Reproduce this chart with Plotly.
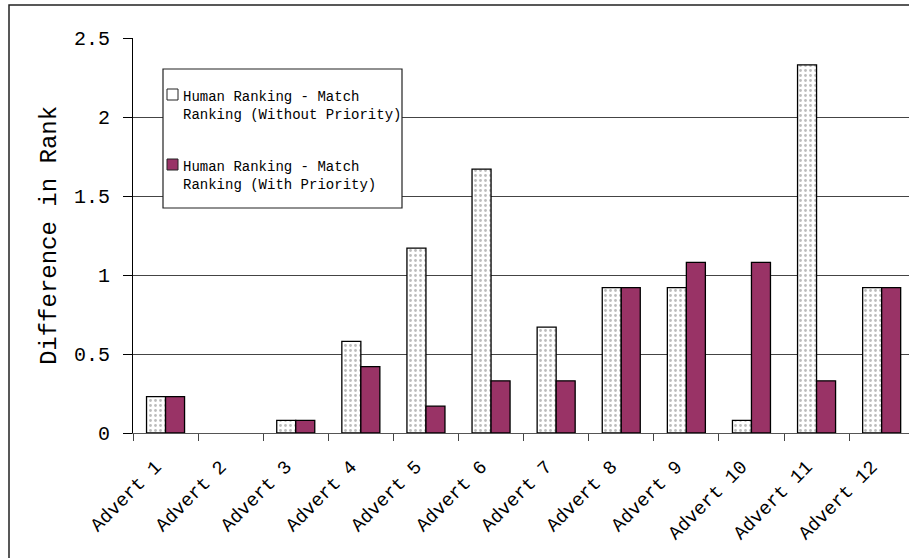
import plotly.graph_objects as go

# Difference between human ranking and match ranking for each advert
categories = ["Advert 1", "Advert 2", "Advert 3", "Advert 4", "Advert 5", "Advert 6",
              "Advert 7", "Advert 8", "Advert 9", "Advert 10", "Advert 11", "Advert 12"]
without_priority = [0.23, 0, 0.08, 0.58, 1.17, 1.67, 0.67, 0.92, 0.92, 0.08, 2.33, 0.92]
with_priority = [0.23, 0, 0.08, 0.42, 0.17, 0.33, 0.33, 0.92, 1.08, 1.08, 0.33, 0.92]
y_ticks = [0, 0.5, 1, 1.5, 2, 2.5]
y_tick_text = ["0", "0.5", "1", "1.5", "2", "2.5"]
series_names = ["Human Ranking - Match<br>Ranking (Without Priority)",
                "Human Ranking - Match<br>Ranking (With Priority)"]

FONT = "Courier New, Courier, FreeMono, Nimbus Mono PS, Liberation Mono, monospace"
PLUM = "#993366"
W, H = 909, 558
ML, MR, MT, MB = 133, 0, 38, 125
PW, PH = W - ML - MR, H - MT - MB


def px(x):
    return (x - ML) / PW


def py(y):
    return 1 - (y - MT) / PH


def outline(values):
    # no outline on empty bars
    return [1.3 if v > 0 else 0 for v in values]


fig = go.Figure()
fig.add_trace(go.Bar(
    x=categories, y=without_priority, name=series_names[0], showlegend=False,
    marker=dict(color="white",
                line=dict(color="black", width=outline(without_priority)),
                pattern=dict(shape=".", fgcolor="#7a7a7a", bgcolor="white",
                             size=5, solidity=0.25)),
))
fig.add_trace(go.Bar(
    x=categories, y=with_priority, name=series_names[1], showlegend=False,
    marker=dict(color=PLUM, line=dict(color="black", width=outline(with_priority))),
))

shapes = [
    # outer chart frame
    dict(type="rect", xref="paper", yref="paper", x0=px(9), x1=px(930),
         y0=py(5), y1=py(580), line=dict(color="#222", width=1.5),
         fillcolor="rgba(0,0,0,0)", layer="above"),
    # legend box
    dict(type="rect", xref="paper", yref="paper", x0=px(163), x1=px(402),
         y0=py(69), y1=py(208), line=dict(color="#222", width=1.2),
         fillcolor="white", layer="above"),
    dict(type="rect", xref="paper", yref="paper", x0=px(167), x1=px(178),
         y0=py(89), y1=py(100), line=dict(color="#222", width=1),
         fillcolor="white", layer="above"),
    dict(type="rect", xref="paper", yref="paper", x0=px(167), x1=px(178),
         y0=py(159), y1=py(170), line=dict(color="#222", width=1),
         fillcolor=PLUM, layer="above"),
]

annotations = [
    dict(xref="paper", yref="paper", x=px(181), y=py(106), text=series_names[0],
         showarrow=False, xanchor="left", yanchor="middle", align="left",
         font=dict(family=FONT, size=14, color="black")),
    dict(xref="paper", yref="paper", x=px(181), y=py(175.5), text=series_names[1],
         showarrow=False, xanchor="left", yanchor="middle", align="left",
         font=dict(family=FONT, size=14, color="black")),
]

fig.update_layout(
    width=W, height=H,
    margin=dict(l=ML, r=MR, t=MT, b=MB, autoexpand=False),
    paper_bgcolor="white", plot_bgcolor="white",
    barmode="group", bargap=0.416, bargroupgap=0,
    font=dict(family=FONT, color="black"),
    shapes=shapes, annotations=annotations,
    xaxis=dict(
        type="category", range=[-0.5, 11.42], tickson="boundaries",
        ticks="outside", ticklen=7, tickcolor="#444", tickwidth=1,
        showline=True, linecolor="#555", linewidth=1,
        showgrid=False, tickangle=-45,
        tickfont=dict(family=FONT, size=19, color="black"),
        ticklabelstandoff=14, ticklabelshift=-10,
        automargin=False,
    ),
    yaxis=dict(
        range=[0, 2.5], tickvals=y_ticks, ticktext=y_tick_text,
        ticks="outside", ticklen=9, tickcolor="black", tickwidth=1,
        showline=True, linecolor="black", linewidth=1.2,
        showgrid=True, gridcolor="#444", gridwidth=1, zeroline=False,
        tickfont=dict(family=FONT, size=20, color="black"),
        ticklabelstandoff=9,
        title=dict(text="Difference in Rank", standoff=10,
                   font=dict(family=FONT, size=24, color="black")),
        automargin=False,
    ),
)

fig.write_html("out.html")
